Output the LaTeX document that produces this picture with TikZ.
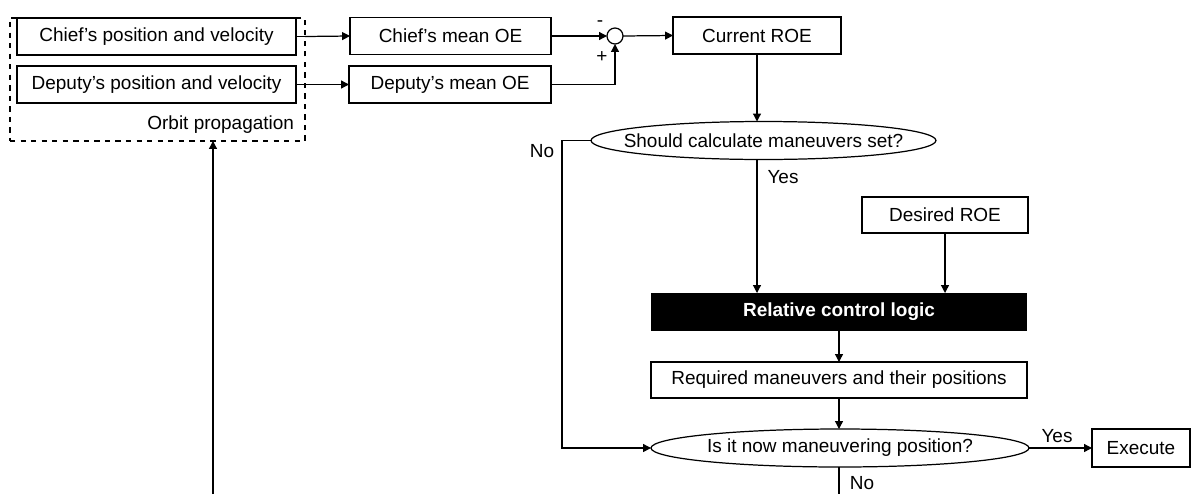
\documentclass[tikz,border=0pt]{standalone}
\usepackage{fontspec}
\setmainfont{Liberation Sans}
\usetikzlibrary{arrows.meta,shapes.geometric}
\begin{document}
\begin{tikzpicture}[x=0.02cm,y=-0.02cm,
  every node/.style={font=\fontsize{10.8}{13}\selectfont, inner sep=0pt, outer sep=0pt},
  box/.style={draw, line width=0.7pt, rectangle, minimum height=0.74cm},
  oval/.style={draw, line width=0.7pt, ellipse, minimum height=0.76cm},
  arr/.style={line width=0.7pt, -{Triangle[length=4.5pt,width=4.5pt]}},
  ln/.style={line width=0.7pt},
  lbl/.style={font=\fontsize{10.8}{13}\selectfont}]
\useasboundingbox (0,0) rectangle (1192,494);
% orbit propagation group
\node[draw, dashed, line width=0.7pt, minimum width=5.9cm, minimum height=2.46cm] (op) at (157.5,79.5) {};
\node[box, minimum width=5.58cm] (cpv) at (156.5,36.5) {Chief’s position and velocity};
\node[box, minimum width=5.58cm] (dpv) at (156.5,84.5) {Deputy’s position and velocity};
\node[lbl, anchor=east] (opl) at (294,125) {Orbit propagation};
% mean OE
\node[box, minimum width=4.02cm] (cmoe) at (450.5,36) {Chief’s mean OE};
\node[box, minimum width=4.04cm] (dmoe) at (450,84.5) {Deputy’s mean OE};
\node[draw, circle, line width=0.7pt, minimum size=0.32cm] (sum) at (615,36) {};
\node[lbl] (minus) at (600,24) {-};
\node[lbl] (plus) at (602,57) {+};
\node[box, minimum width=3.36cm] (croe) at (757,35.5) {Current ROE};
% decision 1
\node[oval, minimum width=6.9cm, label={center:Should calculate maneuvers set?}] (d1) at (763.5,140.5) {};
\node[lbl] (no1) at (542,151) {No};
\node[lbl] (yes1) at (783,177) {Yes};
\node[box, minimum width=3.32cm, minimum height=0.72cm] (droe) at (945,215) {Desired ROE};
\node[rectangle, fill=black, text=white, minimum width=7.52cm, minimum height=0.76cm, font=\fontsize{10.8}{13}\selectfont\bfseries] (rcl) at (839,312) {Relative control logic};
\node[box, minimum width=7.52cm, minimum height=0.72cm] (req) at (839,380) {Required maneuvers and their positions};
\node[oval, minimum width=7.56cm, label={center:Is it now maneuvering position?}] (d2) at (840,448) {};
\node[box, minimum width=1.96cm, minimum height=0.76cm] (exe) at (1141,448) {Execute};
\node[lbl] (yes2) at (1057,436) {Yes};
\node[lbl] (no2) at (862,483) {No};
\coordinate (bot) at (213,494);
\coordinate (nobot) at (839,494);
\coordinate (nocorner) at (562,140.5);
% connectors
\draw[ln] (cpv.east) -- (op.east |- cpv.east);
\draw[arr] (op.east |- cpv.east) -- (cmoe.west);
\draw[ln] (dpv.east) -- (op.east |- dpv.east);
\draw[arr] (op.east |- dpv.east) -- (dmoe.west);
\draw[arr] (cmoe.east) -- (sum.west);
\draw[arr] (dmoe.east) -| (sum.south);
\draw[arr] (sum.east) -- (croe.west);
\draw[arr] (croe.south) -- (croe.south |- d1.north);
\draw[arr] (croe.south |- d1.south) -- (croe.south |- rcl.north);
\draw[arr] (droe.south) -- (droe.south |- rcl.north);
\draw[arr] (rcl.south) -- (req.north);
\draw[arr] (req.south) -- (req.south |- d2.north);
\draw[arr] (d1.west) -- (nocorner) |- (d2.west);
\draw[arr] (d2.east) -- (exe.west);
\draw[ln] (d2.south -| req.south) -- (nobot);
\draw[arr] (bot) -- (bot |- op.south);
\end{tikzpicture}
\end{document}
